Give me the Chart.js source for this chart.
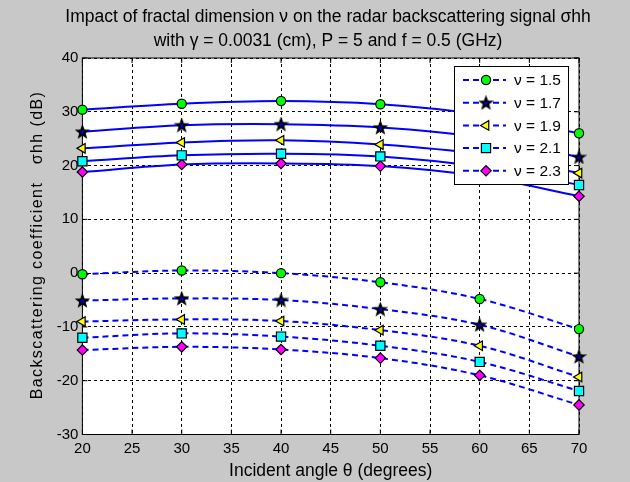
<!DOCTYPE html>
<html>
<head>
<meta charset="utf-8">
<script src="https://cdn.jsdelivr.net/npm/chart.js@4"></script>
<style>
    html, body { margin: 0; padding: 0; background: #c8c8c8; }
    canvas { display: block; }
</style>
</head>
<body>
<canvas id="chart" width="630" height="482"></canvas>
<script>
/* Incident angles (degrees) and axis ticks */
const angles = [20, 30, 40, 50, 60, 70];
const xTickValues = [20, 25, 30, 35, 40, 45, 50, 55, 60, 65, 70];
const yTickValues = [-30, -20, -10, 0, 10, 20, 30, 40];

const nuLabels = ["ν = 1.5", "ν = 1.7", "ν = 1.9", "ν = 2.1", "ν = 2.3"];

/* Upper group, solid curves (dB) */
const solid15 = [30.4, 31.5, 32.0, 31.4, 29.5, 26.0];
const solid17 = [26.3, 27.5, 27.7, 27.1, 25.3, 21.6];
const solid19 = [23.2, 24.3, 24.7, 23.9, 22.1, 18.6];
const solid21 = [20.8, 21.9, 22.2, 21.7, 19.8, 16.4];
const solid23 = [18.8, 20.2, 20.4, 19.9, 18.0, 14.3];

/* Lower group, dashed curves (dB) */
const dashed15 = [-0.2, 0.5, 0.0, -1.7, -4.8, -10.4];
const dashed17 = [-5.1, -4.7, -5.0, -6.7, -9.6, -15.5];
const dashed19 = [-9.0, -8.6, -8.9, -10.6, -13.5, -19.3];
const dashed21 = [-12.0, -11.2, -11.8, -13.5, -16.5, -21.9];
const dashed23 = [-14.3, -13.7, -14.2, -15.8, -19.0, -24.5];

const FONT = "'Liberation Sans', Arial, sans-serif";

/* Pentagram marker: black star with a small blue centre */
function makeStar(size) {
    const c = document.createElement("canvas");
    c.width = size;
    c.height = size;
    const g = c.getContext("2d");
    const cx = size / 2, cy = size / 2 + 0.5;
    const outer = size / 2 - 1, inner = outer * 0.42;
    g.beginPath();
    for (let i = 0; i < 10; i++) {
        const r = i % 2 === 0 ? outer : inner;
        const a = -Math.PI / 2 + i * Math.PI / 5;
        g.lineTo(cx + r * Math.cos(a), cy + r * Math.sin(a));
    }
    g.closePath();
    g.fillStyle = "#000";
    g.fill();
    g.lineWidth = 1.2;
    g.strokeStyle = "#000";
    g.stroke();
    g.beginPath();
    g.arc(cx, cy, inner * 0.7, 0, Math.PI * 2);
    g.fillStyle = "#0000c0";
    g.fill();
    return c;
}

const markers = [
    { style: "circle", color: "#00ff00", radius: 4.6, rotation: 0 },
    { style: makeStar(15), color: "#000", radius: 7, rotation: 0 },
    { style: "triangle", color: "#ffff00", radius: 5.5, rotation: -90 },
    { style: "rect", color: "#00ffff", radius: 6.5, rotation: 0 },
    { style: "rectRot", color: "#ff00ff", radius: 5.2, rotation: 0 }
];

function makeDataset(values, i, dashed) {
    const m = markers[i];
    return {
        label: nuLabels[i],
        data: angles.map((a, k) => ({ x: a, y: values[k] })),
        borderColor: "#0000ff",
        borderWidth: 2,
        borderDash: dashed ? [6, 4] : [],
        tension: 0.35,
        clip: false,
        pointStyle: m.style,
        pointRotation: m.rotation,
        pointRadius: m.radius,
        pointBackgroundColor: m.color,
        pointBorderColor: "#000",
        pointBorderWidth: 1.2
    };
}

const solidSets = [solid15, solid17, solid19, solid21, solid23];
const dashedSets = [dashed15, dashed17, dashed19, dashed21, dashed23];

/* Grey figure, white axes, box with inward ticks, titles and legend */
const matlabLook = {
    id: "matlabLook",
    beforeDraw(chart) {
        const { ctx, chartArea: a } = chart;
        ctx.save();
        ctx.fillStyle = "#c8c8c8";
        ctx.fillRect(0, 0, chart.width, chart.height);
        ctx.fillStyle = "#fff";
        ctx.fillRect(a.left, a.top, a.right - a.left, a.bottom - a.top);
        ctx.restore();
    },
    beforeDatasetsDraw(chart) {
        const { ctx, chartArea: a, scales } = chart;
        ctx.save();
        ctx.strokeStyle = "#000";
        ctx.lineWidth = 1;
        ctx.setLineDash([]);
        ctx.strokeRect(a.left, a.top, a.right - a.left, a.bottom - a.top);
        ctx.beginPath();
        xTickValues.forEach(v => {
            const px = scales.x.getPixelForValue(v);
            ctx.moveTo(px, a.bottom); ctx.lineTo(px, a.bottom - 5);
            ctx.moveTo(px, a.top); ctx.lineTo(px, a.top + 5);
        });
        yTickValues.forEach(v => {
            const py = scales.y.getPixelForValue(v);
            ctx.moveTo(a.left, py); ctx.lineTo(a.left + 5, py);
            ctx.moveTo(a.right, py); ctx.lineTo(a.right - 5, py);
        });
        ctx.stroke();

        /* title */
        ctx.fillStyle = "#000";
        ctx.font = "17.5px " + FONT;
        ctx.textAlign = "center";
        ctx.textBaseline = "middle";
        ctx.fillText("Impact of fractal dimension ν on the radar backscattering signal σhh", 328, 17);
        ctx.fillText("with γ = 0.0031 (cm), P = 5 and f = 0.5 (GHz)", 328, 41);

        /* y axis title, MATLAB draws rotated text slightly spread out */
        ctx.translate(38, 245);
        ctx.rotate(-Math.PI / 2);
        ctx.font = "16px " + FONT;
        ctx.letterSpacing = "1.4px";
        ctx.fillText("Backscattering coefficient   σhh (dB)", 0, 0);
        ctx.restore();
    },
    afterDatasetsDraw(chart) {
        const { ctx } = chart;
        const box = { x: 454, y: 66, w: 114, h: 118 };
        ctx.save();
        ctx.fillStyle = "#fff";
        ctx.fillRect(box.x, box.y, box.w, box.h);
        ctx.strokeStyle = "#000";
        ctx.lineWidth = 1;
        ctx.strokeRect(box.x + 0.5, box.y + 0.5, box.w, box.h);
        nuLabels.forEach((label, i) => {
            const y = box.y + 14 + i * 22.7;
            ctx.strokeStyle = "#0000ff";
            ctx.lineWidth = 2;
            ctx.setLineDash([6, 4]);
            ctx.beginPath();
            ctx.moveTo(box.x + 9, y);
            ctx.lineTo(box.x + 52, y);
            ctx.stroke();
            ctx.setLineDash([]);
            const m = markers[i];
            ctx.fillStyle = m.color;
            ctx.strokeStyle = "#000";
            ctx.lineWidth = 1.2;
            Chart.helpers.drawPoint(ctx, {
                pointStyle: m.style,
                rotation: m.rotation,
                radius: m.radius,
                borderWidth: 1.2
            }, box.x + 32, y);
            ctx.fillStyle = "#000";
            ctx.font = "15.5px " + FONT;
            ctx.textAlign = "left";
            ctx.textBaseline = "middle";
            ctx.fillText(label, box.x + 60, y + 1);
        });
        ctx.restore();
    }
};

new Chart(document.getElementById("chart"), {
    type: "line",
    data: {
        datasets: [
            ...solidSets.map((s, i) => makeDataset(s, i, false)),
            ...dashedSets.map((s, i) => makeDataset(s, i, true))
        ]
    },
    options: {
        responsive: false,
        animation: false,
        layout: { padding: { top: 58, right: 51, left: 0, bottom: 0 } },
        plugins: {
            legend: { display: false },
            title: { display: false },
            tooltip: { enabled: false }
        },
        scales: {
            x: {
                type: "linear",
                min: 20,
                max: 70,
                afterBuildTicks: s => { s.ticks = xTickValues.map(v => ({ value: v })); },
                afterFit: s => { s.height = 47.5; },
                ticks: { color: "#000", padding: 5, maxRotation: 0, font: { family: FONT, size: 15 } },
                grid: { color: "#000", lineWidth: 1, drawTicks: false },
                border: { display: false, dash: [3, 3] },
                title: {
                    display: true,
                    text: "Incident angle θ (degrees)",
                    color: "#000",
                    font: { family: FONT, size: 17.5, lineHeight: 1.2 },
                    padding: { top: 0, bottom: 0 }
                }
            },
            y: {
                min: -30,
                max: 40,
                afterBuildTicks: s => { s.ticks = yTickValues.map(v => ({ value: v })); },
                afterFit: s => { s.width = 82.4; },
                ticks: { color: "#000", padding: 4, font: { family: FONT, size: 15 } },
                grid: { color: "#000", lineWidth: 1, drawTicks: false },
                border: { display: false, dash: [3, 3] }
            }
        }
    },
    plugins: [matlabLook]
});
</script>
</body>
</html>
